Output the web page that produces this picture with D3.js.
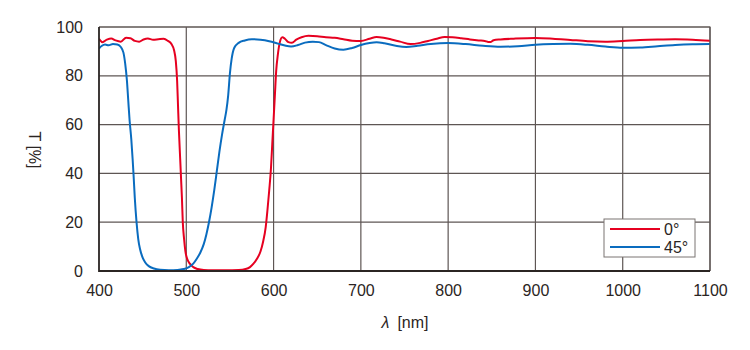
<!DOCTYPE html>
<html>
<head>
<meta charset="utf-8">
<script src="https://cdn.jsdelivr.net/npm/d3@7"></script>
<style>
  body { margin: 0; background: #fff; }
  text { font-family: "Liberation Sans", Arial, sans-serif; fill: #2b2523; }
</style>
</head>
<body>
<div id="chart"></div>
<script>
// 0° curve (red)
const wl0 = [400,404,409,414,419,425,431,436,441,446,451,456,462,468,474,479,483,486,488,489.5,490.5,491.5,493,494,495,496,497.5,499,501,504,508,513,520,530,545,560,568,573,577,581,585,588,591,593,595,597,598.5,600,601.5,603,605,607,610,613,617,621,626,632,640,650,660,670,680,690,700,710,718,726,735,745,757,768,777,787,796,805,815,825,835,842,846,849,852,860,875,900,920,940,960,980,1000,1020,1040,1060,1080,1100];
const t0 = [95.2,93.8,94.8,95.3,94.5,94.0,95.6,95.4,94.3,94.0,94.9,95.3,94.8,95.0,95.2,94.3,93.0,90.5,86,78,68,58,46,38,30,20,13,8,5,3,1.6,0.8,0.4,0.3,0.3,0.4,0.8,1.6,3,5,8,12,18,25,33,42,52,62,72,82,89,93.5,95.8,95.2,93.8,93.5,94.8,95.8,96.4,96.2,95.8,95.6,95.0,94.4,94.3,95.2,95.9,95.6,94.9,94.0,93.0,93.5,94.3,95.2,95.9,95.8,95.4,94.9,94.5,94.3,93.9,93.9,94.6,94.9,95.2,95.5,95.2,94.7,94.2,94.0,94.3,94.7,94.9,95.0,94.8,94.4];

// 45° curve (blue)
const wl45 = [400,403,407,411,416,421,425,428,430,432,433.5,435,437,438.5,439.5,441,443,445,447,450,453,457,463,470,480,490,497,503,508,512,516,520,523,526,529,532,535,538,541,544,546,548,550,552,555,560,567,575,585,595,605,613,620,628,636,645,652,660,670,680,690,700,710,718,727,740,752,765,780,800,820,840,860,880,900,920,940,960,980,1000,1020,1040,1060,1080,1100];
const t45 = [91.2,92.2,92.8,92.5,93.0,92.8,91.8,89.5,85,78,70,62,54,46,40,30,20,13,9,5.5,3.5,2,1.0,0.5,0.3,0.4,0.8,1.6,3,5,7.5,11,15,20,26,33,41,49,56,62,66,72,81,87,91.5,93.5,94.5,95.0,94.8,94.2,93.2,92.4,92.0,92.6,93.6,94.0,93.8,92.6,91.2,90.7,91.4,92.6,93.4,93.7,93.3,92.3,91.8,92.3,93.0,93.4,93.0,92.3,91.9,92.1,92.7,93.0,93.1,92.7,92.0,91.5,91.6,92.1,92.6,92.9,93.0];

const xTicks = [400,500,600,700,800,900,1000,1100];
const yTicks = [0,20,40,60,80,100];
const legendLabels = ["0°", "45°"];
const colors = ["#e60020", "#0a6cbf"];

const W = 750, H = 350;
const margin = { top: 27, right: 40, bottom: 79, left: 99 };
const width = 710 - margin.left;
const height = 271 - margin.top;

const svg = d3.select("#chart").append("svg")
    .attr("width", W).attr("height", H);
const g = svg.append("g").attr("transform", `translate(${margin.left},${margin.top})`);

const x = d3.scaleLinear().domain([400, 1100]).range([0, width]);
const y = d3.scaleLinear().domain([0, 100]).range([height, 0]);

// grid
g.append("g").selectAll("line").data(xTicks.slice(1)).enter().append("line")
    .attr("x1", d => x(d)).attr("x2", d => x(d))
    .attr("y1", 0).attr("y2", height)
    .attr("stroke", "#5e5654").attr("stroke-width", 1.2);
g.append("g").selectAll("line").data(yTicks.slice(1)).enter().append("line")
    .attr("x1", 0).attr("x2", width)
    .attr("y1", d => y(d)).attr("y2", d => y(d))
    .attr("stroke", "#5e5654").attr("stroke-width", 1.2);

// axes (labels only)
const xAxis = g.append("g").attr("transform", `translate(0,${height})`)
    .call(d3.axisBottom(x).tickValues(xTicks).tickSize(0).tickPadding(14).tickFormat(d3.format("d")));
const yAxis = g.append("g")
    .call(d3.axisLeft(y).tickValues(yTicks).tickSize(0).tickPadding(16));
[xAxis, yAxis].forEach(a => {
    a.select(".domain").remove();
    a.selectAll("text").attr("font-size", 16).style("fill", "#2b2523")
      .attr("font-family", "Liberation Sans, Arial, sans-serif");
});

// curves
const clip = svg.append("clipPath").attr("id", "clip").append("rect")
    .attr("width", width).attr("height", height);
const line = d3.line().x(d => x(d[0])).y(d => y(d[1])).curve(d3.curveMonotoneX);
const series = [d3.zip(wl0, t0), d3.zip(wl45, t45)];
g.append("g").attr("clip-path", "url(#clip)")
  .selectAll("path").data(series).enter().append("path")
    .attr("d", line).attr("fill", "none")
    .attr("stroke", (d, i) => colors[i]).attr("stroke-width", 2);

// frame
g.append("path")
    .attr("d", `M0,0H${width}V${height}`)
    .attr("fill", "none").attr("stroke", "#5e5654").attr("stroke-width", 1.2);
g.append("path")
    .attr("d", `M0,0V${height}H${width}`)
    .attr("fill", "none").attr("stroke", "#2b2523").attr("stroke-width", 1.8);

// legend
const leg = svg.append("g").attr("transform", "translate(604,219)");
leg.append("rect").attr("width", 91).attr("height", 38)
    .attr("fill", "#fff").attr("stroke", "#7a7472").attr("stroke-width", 1);
legendLabels.forEach((lab, i) => {
    leg.append("line").attr("x1", 6).attr("x2", 56)
        .attr("y1", 10 + i * 18).attr("y2", 10 + i * 18)
        .attr("stroke", colors[i]).attr("stroke-width", 2);
    leg.append("text").attr("x", 60).attr("y", 16 + i * 18)
        .attr("font-size", 16).text(lab);
});

// axis titles
const xt = svg.append("text").attr("x", 405).attr("y", 328)
    .attr("text-anchor", "middle").attr("font-size", 16);
xt.append("tspan").attr("font-style", "italic").text("λ");
xt.append("tspan").text("\u2002[nm]");

svg.append("text")
    .attr("transform", "translate(29,150) rotate(90)")
    .attr("text-anchor", "middle").attr("font-size", 16)
    .text("T [%]");
</script>
</body>
</html>
